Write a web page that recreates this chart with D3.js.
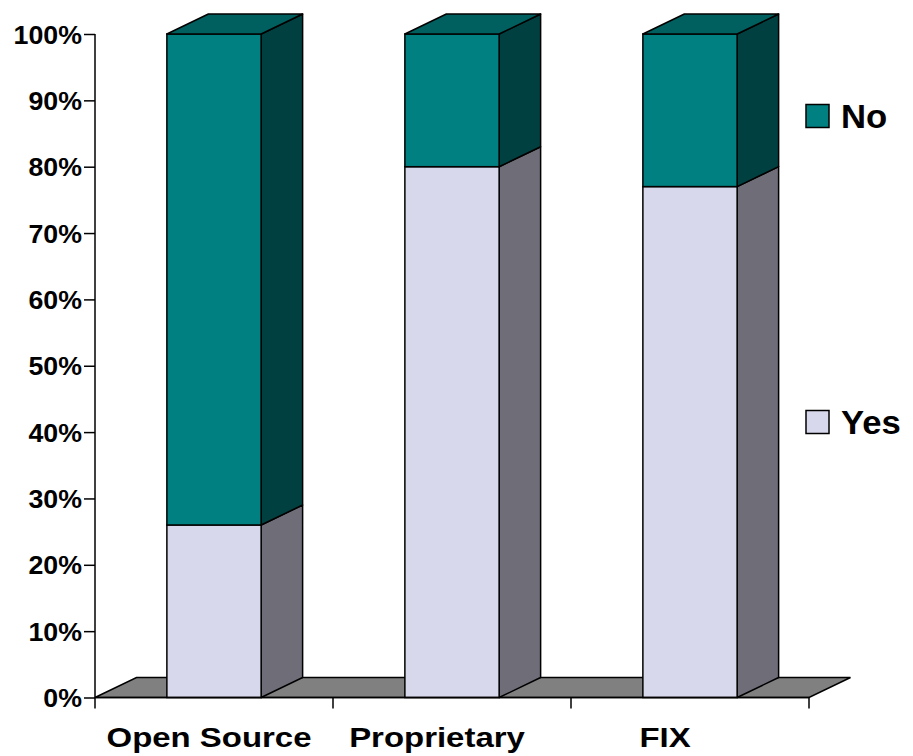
<!DOCTYPE html>
<html>
<head>
<meta charset="utf-8">
<script src="https://cdn.jsdelivr.net/npm/d3@7"></script>
<style>
  html, body { margin: 0; padding: 0; background: #fff; }
  svg { display: block; }
  text { font-family: "Liberation Sans", Arial, sans-serif; font-weight: bold; fill: #000; }
</style>
</head>
<body>
<svg id="chart" width="913" height="756"></svg>
<script>
// Share of answers per platform (percent)
const categories = ["Open Source", "Proprietary", "FIX"];
const yesValues = [26, 80, 77];
const noValues = [74, 20, 23];
const seriesNames = ["No", "Yes"];
const yTicks = [0, 10, 20, 30, 40, 50, 60, 70, 80, 90, 100];

const colors = {
  Yes: { front: "#d8d8ec", side: "#6e6d78", top: "#b0b0c8" },
  No:  { front: "#008080", side: "#004040", top: "#006060" }
};

const svg = d3.select("#chart");
const plotLeft = 95, plotRight = 809;
const yBottom = 697.5, yTop = 34;
const depthX = 41.5, depthY = -20;

const x = d3.scaleBand().domain(categories).range([plotLeft, plotRight]).paddingInner(0.604).paddingOuter(0.302);
const xLabel = d3.scaleBand().domain(categories).range([plotLeft, plotRight - 30]);
const y = d3.scaleLinear().domain([0, 100]).range([yBottom, yTop]);
const pts = arr => arr.map(p => p.join(",")).join(" ");

// Floor of the 3D plot area
svg.append("polygon")
  .attr("points", pts([
    [plotLeft, yBottom], [plotLeft + depthX, yBottom + depthY],
    [plotRight + depthX, yBottom + depthY], [plotRight, yBottom]
  ]))
  .attr("fill", "#808080").attr("stroke", "#000").attr("stroke-width", 1.5);

// Stack Yes below No
const rows = categories.map((c, i) => ({ cat: c, Yes: yesValues[i], No: noValues[i] }));
const stacked = d3.stack().keys(["Yes", "No"])(rows);

const bars = svg.append("g");
stacked.forEach(layer => {
  const key = layer.key;
  layer.forEach(d => {
    const x0 = x(d.data.cat), x1 = x0 + x.bandwidth();
    const yl = y(d[0]), yh = y(d[1]);
    const g = bars.append("g");
    // side face
    g.append("polygon")
      .attr("points", pts([[x1, yl], [x1 + depthX, yl + depthY], [x1 + depthX, yh + depthY], [x1, yh]]))
      .attr("fill", colors[key].side).attr("stroke", "#000").attr("stroke-width", 1.5).attr("stroke-linejoin", "round");
    // front face
    g.append("rect")
      .attr("x", x0).attr("y", yh).attr("width", x1 - x0).attr("height", yl - yh)
      .attr("fill", colors[key].front).attr("stroke", "#000").attr("stroke-width", 1.5);
    // top face on the highest segment
    if (key === "No") {
      g.append("polygon")
        .attr("points", pts([[x0, yh], [x0 + depthX, yh + depthY], [x1 + depthX, yh + depthY], [x1, yh]]))
        .attr("fill", colors[key].top).attr("stroke", "#000").attr("stroke-width", 1.5).attr("stroke-linejoin", "round");
    }
  });
});

// Value axis
const yAxis = d3.axisLeft(y).tickValues(yTicks).tickSize(11).tickFormat(d => d + "%");
const ya = svg.append("g").attr("transform", `translate(${plotLeft},0)`).call(yAxis);
ya.select(".domain").remove();
ya.selectAll(".tick line").attr("stroke", "#000").attr("stroke-width", 1.5);
ya.selectAll(".tick text").remove();
ya.selectAll(".tick").append("g")
  .attr("transform", "translate(-13,0) scale(1.07,1)")
  .append("text")
  .attr("text-anchor", "end").attr("dy", "0.36em").attr("font-size", 25)
  .text(d => d + "%");
svg.append("line").attr("x1", plotLeft).attr("x2", plotLeft).attr("y1", yTop).attr("y2", yBottom + 11)
  .attr("stroke", "#000").attr("stroke-width", 1.5);

// Category axis
svg.append("line").attr("x1", plotLeft).attr("x2", plotRight).attr("y1", yBottom).attr("y2", yBottom)
  .attr("stroke", "#000").attr("stroke-width", 1.5);
const step = x.step();
const xt = svg.append("g");
categories.forEach((c, i) => {
  const xr = plotLeft + step * (i + 1);
  xt.append("line").attr("x1", xr).attr("x2", xr).attr("y1", yBottom).attr("y2", yBottom + 11)
    .attr("stroke", "#000").attr("stroke-width", 1.5);
  xt.append("g")
    .attr("transform", `translate(${xLabel(c) + xLabel.bandwidth() / 2},747) scale(1.22,1)`)
    .append("text")
    .attr("text-anchor", "middle")
    .attr("font-size", 27)
    .text(c);
});

// Legend
const legendY = { No: 116, Yes: 422 };
seriesNames.forEach(name => {
  svg.append("rect").attr("x", 806).attr("y", legendY[name] - 11.5).attr("width", 23).attr("height", 23)
    .attr("fill", colors[name].front).attr("stroke", "#000").attr("stroke-width", 1.5);
  svg.append("g").attr("transform", `translate(841,${legendY[name] + 12}) scale(1.05,1)`)
    .append("text").attr("font-size", 33).text(name);
});
</script>
</body>
</html>
